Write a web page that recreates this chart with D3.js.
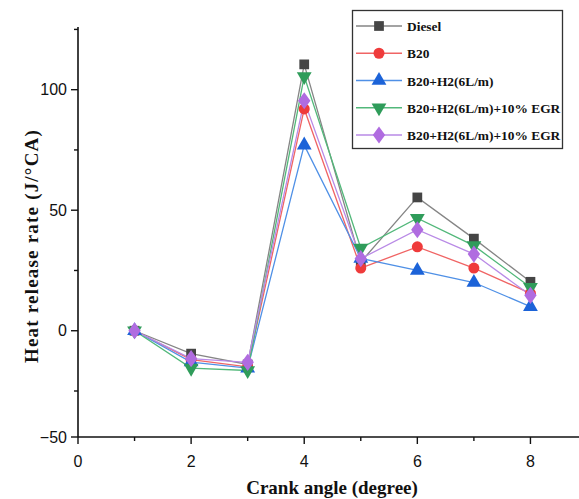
<!DOCTYPE html>
<html>
<head>
<meta charset="utf-8">
<script src="https://cdn.jsdelivr.net/npm/d3@7"></script>
<style>
  html, body { margin: 0; padding: 0; background: #fff; }
  svg { display: block; }
</style>
</head>
<body>
<svg id="chart" width="579" height="499"></svg>
<script>
// Crank angle positions (degree)
const crankAngle = [1, 2, 3, 4, 5, 6, 7, 8];

// Heat release rate (J/°CA) for each fuel blend
const seriesNames = ["Diesel", "B20", "B20+H2(6L/m)", "B20+H2(6L/m)+10% EGR", "B20+H2(6L/m)+10% EGR"];
const diesel     = [0, -9.5, -14, 110.5, 28.5, 55.3, 38.2, 20.3];
const b20        = [0, -12, -15, 92, 26, 34.8, 26, 15.5];
const b20h2      = [0, -13, -15.5, 77, 30, 25, 20, 10];
const b20h2egr   = [0, -15.5, -16.5, 105.5, 34.3, 46.7, 35.3, 18];
const b20h2egr2  = [0, -11.6, -13.1, 95.4, 29.9, 41.9, 31.8, 14.7];

const xTicks = [0, 2, 4, 6, 8];
const xMinor = [1, 3, 5, 7];
const yTicks = [-50, 0, 50, 100];
const yMinor = [-25, 25, 75, 125];

const lineColors   = ["#858585", "#f06464", "#4f90e6", "#52b87a", "#b98ae6"];
const markerColors = ["#454545", "#ef3b3b", "#1c63d8", "#2f9c5a", "#b06ce0"];
const markerTypes  = ["square", "circle", "triangleUp", "triangleDown", "diamond"];

const allSeries = [diesel, b20, b20h2, b20h2egr, b20h2egr2];

const svg = d3.select("#chart");

const x = d3.scaleLinear().domain([0, 9]).range([78, 587]);
// the lower part of the value axis is drawn slightly compressed
const y = d3.scaleLinear().domain([-50, -25, 126]).range([437, 391, 27]);

const axisColor = "#111";

// x axis
const xAxis = svg.append("g").attr("transform", `translate(0,${y(-50)})`);
xAxis.append("line").attr("x1", x(0)).attr("x2", 579).attr("stroke", axisColor).attr("stroke-width", 1.6);
xAxis.selectAll(".major").data(xTicks).join("line")
  .attr("x1", d => x(d)).attr("x2", d => x(d)).attr("y1", 0).attr("y2", 7)
  .attr("stroke", axisColor).attr("stroke-width", 1.4);
xAxis.selectAll(".minor").data(xMinor).join("line")
  .attr("x1", d => x(d)).attr("x2", d => x(d)).attr("y1", 0).attr("y2", 4)
  .attr("stroke", axisColor).attr("stroke-width", 1.4);
xAxis.selectAll("text").data(xTicks).join("text")
  .attr("x", d => x(d)).attr("y", 30)
  .attr("text-anchor", "middle")
  .attr("font-family", "Liberation Sans, Arial, sans-serif")
  .attr("font-size", 16).attr("fill", "#111")
  .text(d => d3.format("d")(d));

// y axis
const yAxis = svg.append("g").attr("transform", `translate(${x(0)},0)`);
yAxis.append("line").attr("y1", y(-50)).attr("y2", y(126)).attr("stroke", axisColor).attr("stroke-width", 1.6);
yAxis.selectAll(".major").data(yTicks).join("line")
  .attr("x1", -7).attr("x2", 0).attr("y1", d => y(d)).attr("y2", d => y(d))
  .attr("stroke", axisColor).attr("stroke-width", 1.4);
yAxis.selectAll(".minor").data(yMinor).join("line")
  .attr("x1", -4).attr("x2", 0).attr("y1", d => y(d)).attr("y2", d => y(d))
  .attr("stroke", axisColor).attr("stroke-width", 1.4);
yAxis.selectAll("text").data(yTicks).join("text")
  .attr("x", -11).attr("y", d => y(d)).attr("dy", "0.35em")
  .attr("text-anchor", "end")
  .attr("font-family", "Liberation Sans, Arial, sans-serif")
  .attr("font-size", 16).attr("fill", "#111")
  .text(d => d3.format("d")(d).replace("-", "\u2212"));

// axis titles
svg.append("text")
  .attr("x", 332).attr("y", 494)
  .attr("text-anchor", "middle")
  .attr("font-family", "Liberation Serif, Times New Roman, serif")
  .attr("font-weight", "bold").attr("font-size", 19).attr("fill", "#111")
  .text("Crank angle (degree)");

svg.append("text")
  .attr("transform", `translate(38,${246}) rotate(-90)`)
  .attr("text-anchor", "middle")
  .attr("font-family", "Liberation Serif, Times New Roman, serif")
  .attr("font-weight", "bold").attr("font-size", 19).attr("letter-spacing", 1.2).attr("fill", "#111")
  .text("Heat release rate (J/\u00B0CA)");

// marker shapes
const symbolFor = {
  square:       d3.symbol().type(d3.symbolSquare).size(95),
  circle:       d3.symbol().type(d3.symbolCircle).size(95),
  triangleUp:   d3.symbol().type(d3.symbolTriangle).size(95),
  triangleDown: d3.symbol().type(d3.symbolTriangle).size(95),
  diamond:      d3.symbol().type(d3.symbolDiamond).size(85)
};
function markerTransform(type, px, py) {
  if (type === "triangleDown") return `translate(${px},${py}) rotate(180)`;
  if (type === "diamond") return `translate(${px},${py}) scale(1.25,1)`;
  return `translate(${px},${py})`;
}

const line = d3.line().x((d, i) => x(crankAngle[i])).y(d => y(d));

// series lines then markers
allSeries.forEach((vals, s) => {
  svg.append("path")
    .attr("d", line(vals))
    .attr("fill", "none")
    .attr("stroke", lineColors[s])
    .attr("stroke-width", 1.3);
});
allSeries.forEach((vals, s) => {
  svg.append("g").selectAll("path").data(vals).join("path")
    .attr("d", symbolFor[markerTypes[s]]())
    .attr("transform", (d, i) => markerTransform(markerTypes[s], x(crankAngle[i]), y(d)))
    .attr("fill", markerColors[s]);
});

// legend
const legend = svg.append("g");
legend.append("rect")
  .attr("x", 352.5).attr("y", 10.5).attr("width", 210).attr("height", 138)
  .attr("fill", "#fff").attr("stroke", "#333").attr("stroke-width", 1.3);
const legendY = d3.scalePoint().domain(d3.range(seriesNames.length)).range([26, 135]);
seriesNames.forEach((name, s) => {
  const ly = legendY(s);
  legend.append("line")
    .attr("x1", 356).attr("x2", 402).attr("y1", ly).attr("y2", ly)
    .attr("stroke", lineColors[s]).attr("stroke-width", 1.3);
  legend.append("path")
    .attr("d", symbolFor[markerTypes[s]]())
    .attr("transform", markerTransform(markerTypes[s], 379, ly))
    .attr("fill", markerColors[s]);
  legend.append("text")
    .attr("x", 407).attr("y", ly).attr("dy", "0.38em")
    .attr("font-family", "Liberation Serif, Times New Roman, serif")
    .attr("font-weight", "bold").attr("font-size", 13.4).attr("fill", "#111")
    .text(name);
});
</script>
</body>
</html>
